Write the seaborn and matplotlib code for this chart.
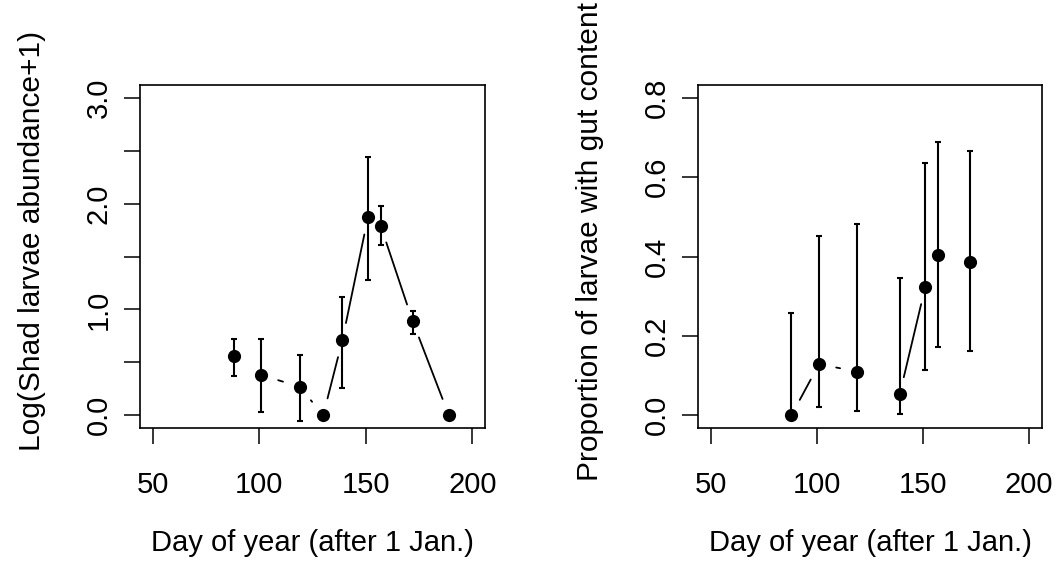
import numpy as np
import pandas as pd
import seaborn as sns
import matplotlib
matplotlib.use("Agg")
import matplotlib.pyplot as plt

# day of year for each sampling date
days = [88, 101, 119, 130, 139, 151, 157, 172, 189]

# left panel: log(shad larvae abundance + 1), mean and error limits
shad_mean = [0.56, 0.38, 0.27, 0.0, 0.71, 1.87, 1.79, 0.89, 0.0]
shad_low = [0.37, 0.03, -0.05, np.nan, 0.26, 1.28, 1.61, 0.77, np.nan]
shad_high = [0.72, 0.72, 0.57, np.nan, 1.12, 2.44, 1.98, 0.99, np.nan]

# right panel: proportion of larvae with gut content (no larvae on day 130 / 189)
gut_mean = [0.0, 0.129, 0.110, np.nan, 0.053, 0.323, 0.405, 0.386, np.nan]
gut_low = [0.0, 0.022, 0.011, np.nan, 0.003, 0.114, 0.171, 0.161, np.nan]
gut_high = [0.258, 0.452, 0.481, np.nan, 0.345, 0.635, 0.689, 0.665, np.nan]

x_ticks = [50, 100, 150, 200]
shad_ticks = [0, 0.5, 1.0, 1.5, 2.0, 2.5, 3.0]
shad_labels = ["0.0", "", "1.0", "", "2.0", "", "3.0"]
gut_ticks = [0, 0.2, 0.4, 0.6, 0.8]
gut_labels = ["0.0", "0.2", "0.4", "0.6", "0.8"]

x_label = "Day of year (after 1 Jan.)"
shad_ylabel = "Log(Shad larvae abundance+1)"
gut_ylabel = "Proportion of larvae with gut content"

sns.set_style("ticks")
plt.rcParams["font.family"] = ["Liberation Sans", "DejaVu Sans"]
plt.rcParams["text.color"] = "black"
plt.rcParams["axes.labelcolor"] = "black"
FS = 21


def gapped_line(ax, x, y, gap=17.5):
    # like R type="b": segments between points, leaving a gap around each point
    pts = ax.transData.transform(np.column_stack([x, y]))
    inv = ax.transData.inverted()
    for p0, p1 in zip(pts[:-1], pts[1:]):
        if np.isnan(p0).any() or np.isnan(p1).any():
            continue
        d = p1 - p0
        dist = np.hypot(d[0], d[1])
        if dist <= 2 * gap:
            continue
        u = d / dist
        a = inv.transform(p0 + u * gap)
        b = inv.transform(p1 - u * gap)
        ax.plot([a[0], b[0]], [a[1], b[1]], color="black", lw=1.3, zorder=2)


def panel(ax, mean, low, high, yticks, ylabels, ylabel):
    df = pd.DataFrame({"day": days, "mean": mean, "low": low, "high": high})
    pad = 0.04
    ax.set_xlim(50 - 150 * pad, 200 + 150 * pad)
    ymax = yticks[-1]
    ax.set_ylim(-ymax * pad, ymax * (1 + pad))

    gapped_line(ax, df["day"].values, df["mean"].values)
    ax.errorbar(df["day"], df["mean"],
                yerr=[df["mean"] - df["low"], df["high"] - df["mean"]],
                fmt="none", ecolor="black", elinewidth=1.5,
                capsize=2.4, capthick=1.5, zorder=2)
    sns.scatterplot(x="day", y="mean", data=df.dropna(subset=["mean"]), color="black",
                    s=90, linewidth=0, ax=ax, zorder=3)

    ax.set_xticks(x_ticks)
    ax.set_xticklabels([str(t) for t in x_ticks], fontsize=FS)
    ax.set_yticks(yticks)
    ax.set_yticklabels(ylabels, fontsize=FS, rotation=90, va="center")
    ax.tick_params(axis="both", direction="out", length=11.8, width=1.1, colors="black")
    ax.tick_params(axis="x", pad=19)
    ax.tick_params(axis="y", pad=8)
    for sp in ax.spines.values():
        sp.set_visible(True)
        sp.set_linewidth(1.2)
        sp.set_color("black")
    ax.set_xlabel(x_label, fontsize=FS, labelpad=22)
    ax.set_ylabel(ylabel, fontsize=21.5, labelpad=28)
    ax.yaxis.label.set_y(0.545)


fig = plt.figure(figsize=(10.6, 5.72), dpi=100)
ax1 = fig.add_axes([0.1321, 0.2517, 0.3255, 0.5997])
ax2 = fig.add_axes([0.6585, 0.2517, 0.3245, 0.5997])

panel(ax1, shad_mean, shad_low, shad_high, shad_ticks, shad_labels, shad_ylabel)
panel(ax2, gut_mean, gut_low, gut_high, gut_ticks, gut_labels, gut_ylabel)

fig.savefig("out.png", dpi=100)
